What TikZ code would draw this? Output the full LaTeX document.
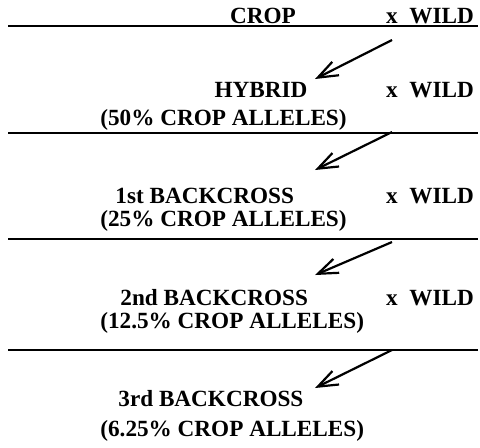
\documentclass[tikz,border=0pt]{standalone}
\usepackage{fontspec}
\setmainfont{Liberation Serif}
\usetikzlibrary{arrows.meta}
\begin{document}
\begin{tikzpicture}[x=0.5pt,y=-0.5pt,
  gen/.style={font=\fontsize{11.6}{13}\selectfont\bfseries, inner sep=0pt},
  cross/.style={-{Straight Barb[length=10pt,width=7.5pt]}, line width=1.1pt}]
  \useasboundingbox (0,0) rectangle (480,447);

  %draw horizontal lines
  \foreach \y in {26,133,239,350}
     \draw[line width=1.1pt] (8,\y) -- (478,\y);

  %draw nodes
  \node[gen] (crop) at (263,16) {CROP};
  \node[gen] (wild0) at (430,16) {x\hspace{0.5em}WILD};
  \node[gen] (hybrid) at (261,90) {HYBRID};
  \node[gen] (wild1) at (430,90) {x\hspace{0.5em}WILD};
  \node[gen, anchor=west] (hybridp) at (100,120) {(50\% CROP ALLELES)};
  \node[gen, anchor=west] (back1) at (115,196) {1st BACKCROSS};
  \node[gen] (wild2) at (430,196) {x\hspace{0.5em}WILD};
  \node[gen, anchor=west] (back1p) at (100,221) {(25\% CROP ALLELES)};
  \node[gen, anchor=west] (back2) at (120,298) {2nd BACKCROSS};
  \node[gen] (wild3) at (430,298) {x\hspace{0.5em}WILD};
  \node[gen, anchor=west] (back2p) at (100,323) {(12.5\% CROP ALLELES)};
  \node[gen, anchor=west] (back3) at (118,399) {3rd BACKCROSS};
  \node[gen, anchor=west] (back3p) at (100,431) {(6.25\% CROP ALLELES)};

  %draw arrows
  \foreach \ya/\yb [count=\i] in {40/79,132/170,242/275,350/388} {
     \coordinate (from\i) at (392,\ya);
     \coordinate (to\i) at (315,\yb);
     \draw[cross] (from\i) -- (to\i);
  }
\end{tikzpicture}
\end{document}
